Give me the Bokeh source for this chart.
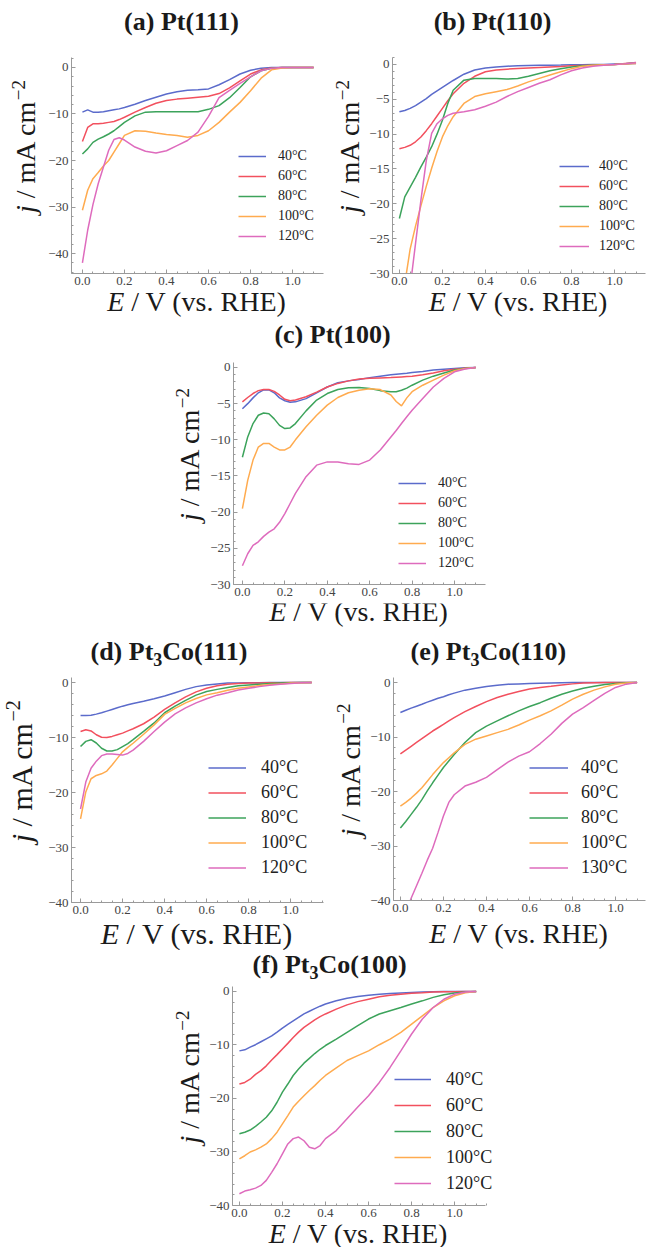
import math
from bokeh.plotting import figure
from bokeh.models import (Range1d, FixedTicker, CustomJSTickFormatter, Label,
                          Legend, LegendItem, Spacer, Plot)
from bokeh.layouts import row, column
from bokeh.embed import file_html
from bokeh.resources import INLINE

SERIF = "Liberation Serif"
COLORS = ["#5b6bcb", "#f2505e", "#3ca35b", "#ffab4f", "#de6bbd"]
LABELS = ["40°C", "60°C", "80°C", "100°C", "120°C"]
LABELS_E = ["40°C", "60°C", "80°C", "100°C", "130°C"]

# ---------------- data (E in V vs RHE, j in mA cm^-2) ----------------
E_a = [0, .025, .05, .075, .1, .125, .15, .175, .2, .25, .3, .35, .4, .45, .5,
       .55, .6, .65, .7, .75, .8, .85, .9, .95, 1.0, 1.05, 1.1]
a_40 = [-9.6, -9.1, -9.6, -9.6, -9.5, -9.3, -9.1, -8.9, -8.6, -7.9, -7.1, -6.4, -5.7, -5.2, -4.9,
        -4.8, -4.6, -3.7, -2.6, -1.4, -0.6, -0.15, 0, 0, 0, 0, 0]
a_60 = [-15.9, -12.9, -12.1, -12.1, -12.0, -11.8, -11.6, -11.2, -10.7, -9.6, -8.6, -7.7, -7.1, -6.8, -6.6,
        -6.4, -6.2, -5.6, -4.4, -2.9, -1.4, -0.5, -0.1, 0, 0, 0, 0]
a_80 = [-18.6, -17.5, -16.1, -15.4, -14.9, -14.3, -13.6, -12.7, -11.8, -10.4, -9.6, -9.5, -9.5, -9.5, -9.5,
        -9.5, -9.0, -8.2, -6.5, -4.3, -2.0, -0.7, -0.15, 0, 0, 0, 0]
a_100 = [-30.7, -26.4, -23.9, -22.6, -21.2, -20.0, -18.2, -16.4, -14.6, -13.6, -13.7, -14.1, -14.4, -14.6, -15.0,
         -14.6, -13.6, -11.8, -9.6, -7.5, -5.0, -2.3, -0.5, -0.1, 0, 0, 0]
a_120 = [-42.0, -35.0, -29.5, -25.0, -21.4, -17.8, -15.5, -15.1, -15.6, -17.1, -18.0, -18.4, -17.9, -16.8, -15.7,
         -13.9, -10.5, -6.5, -4.9, -3.4, -2.0, -0.7, -0.15, 0, 0, 0, 0]

E_b = [0, .025, .05, .075, .1, .125, .15, .175, .2, .225, .25, .3, .35, .4, .45, .5,
       .55, .6, .65, .7, .75, .8, .85, .9, .95, 1.0, 1.05, 1.1]
b_40 = [-6.8, -6.6, -6.3, -5.9, -5.4, -4.9, -4.3, -3.8, -3.3, -2.8, -2.3, -1.4, -0.8, -0.5, -0.35, -0.25,
        -0.2, -0.15, -0.12, -0.1, -0.08, -0.05, -0.03, 0, 0, 0.05, 0.1, 0.15]
b_60 = [-12.1, -11.9, -11.6, -11.1, -10.4, -9.5, -8.5, -7.4, -6.3, -5.2, -4.2, -2.7, -1.7, -1.05, -0.8, -0.67,
        -0.58, -0.5, -0.42, -0.35, -0.28, -0.2, -0.15, -0.1, -0.05, 0, 0.15, 0.3]
b_80 = [-22.1, -19.0, -17.6, -16.2, -14.7, -13.3, -11.8, -10.0, -8.0, -5.6, -3.7, -2.25, -2.0, -2.0, -2.0, -2.1,
        -2.0, -1.7, -1.3, -0.9, -0.6, -0.35, -0.2, -0.1, -0.05, 0, 0.1, 0.2]
b_100 = [-34.0, -31.5, -26.5, -23.2, -20.3, -17.5, -14.9, -12.5, -10.4, -8.8, -7.5, -5.6, -4.6, -4.2, -3.9, -3.6,
         -3.1, -2.5, -2.0, -1.5, -1.05, -0.6, -0.25, -0.1, -0.05, 0, 0.08, 0.15]
b_120 = [-40.0, -36.0, -32.0, -25.7, -19.5, -13.8, -9.9, -8.5, -7.8, -7.3, -7.0, -6.8, -6.5, -6.0, -5.4, -4.6,
         -3.9, -3.3, -2.7, -2.2, -1.5, -0.9, -0.5, -0.25, -0.1, 0, 0.12, 0.25]

E_c = [0, .025, .05, .075, .1, .125, .15, .175, .2, .225, .25, .3, .35, .4, .45, .5,
       .55, .6, .65, .7, .725, .75, .775, .8, .85, .9, .95, 1.0, 1.05, 1.1]
c_40 = [-5.7, -5.0, -4.2, -3.5, -3.1, -3.1, -3.5, -4.2, -4.6, -4.8, -4.75, -4.3, -3.5, -2.7, -2.1, -1.85,
        -1.65, -1.4, -1.2, -1.0, -0.92, -0.85, -0.78, -0.7, -0.55, -0.35, -0.25, -0.15, -0.05, 0]
c_60 = [-4.75, -4.15, -3.6, -3.2, -3.05, -3.05, -3.3, -3.8, -4.4, -4.6, -4.5, -4.05, -3.4, -2.7, -2.2, -1.85,
        -1.6, -1.5, -1.45, -1.4, -1.35, -1.3, -1.25, -1.2, -1.0, -0.75, -0.45, -0.25, -0.1, 0]
c_80 = [-12.4, -9.6, -7.75, -6.6, -6.3, -6.4, -7.1, -8.0, -8.45, -8.35, -7.75, -6.0, -4.5, -3.6, -3.05, -2.8,
        -2.75, -2.9, -3.2, -3.35, -3.35, -3.15, -2.85, -2.45, -1.75, -1.2, -0.75, -0.35, -0.15, 0]
c_100 = [-19.5, -15.6, -12.8, -11.0, -10.5, -10.5, -11.0, -11.4, -11.4, -11.0, -10.0, -8.2, -6.6, -5.2, -4.15, -3.5,
         -3.15, -2.95, -3.05, -3.8, -4.7, -5.3, -4.2, -3.35, -2.45, -1.75, -1.05, -0.45, -0.15, 0]
c_120 = [-27.4, -25.75, -24.6, -24.1, -23.35, -22.75, -22.3, -21.4, -20.2, -18.8, -17.4, -15.1, -13.5, -13.05, -13.05, -13.3,
         -13.4, -12.8, -11.4, -9.6, -8.7, -7.75, -6.8, -5.9, -4.3, -2.7, -1.5, -0.6, -0.2, 0]

E_d = [0, .025, .05, .075, .1, .125, .15, .175, .2, .225, .25, .3, .35, .4, .45, .5,
       .55, .6, .65, .7, .75, .8, .85, .9, .95, 1.0, 1.05, 1.1]
d_40 = [-6.0, -6.0, -5.95, -5.75, -5.5, -5.2, -4.9, -4.6, -4.3, -4.05, -3.8, -3.4, -2.95, -2.45, -1.85, -1.25,
        -0.75, -0.45, -0.25, -0.1, -0.07, -0.05, -0.03, 0, 0, 0, 0, 0]
d_60 = [-8.9, -8.6, -8.8, -9.5, -9.95, -10.0, -9.8, -9.5, -9.2, -8.8, -8.4, -7.5, -6.3, -4.9, -3.7, -2.6,
        -1.7, -1.05, -0.6, -0.3, -0.2, -0.1, -0.07, -0.05, -0.03, 0, 0, 0]
d_80 = [-11.65, -10.7, -10.4, -11.0, -11.95, -12.45, -12.45, -12.2, -11.65, -11.1, -10.4, -8.9, -7.35, -5.5, -4.3, -3.25,
        -2.3, -1.65, -1.25, -0.9, -0.6, -0.45, -0.3, -0.2, -0.1, -0.05, 0, 0]
d_100 = [-24.8, -19.9, -17.5, -16.9, -16.6, -16.1, -15.0, -13.8, -12.6, -11.8, -11.05, -9.4, -7.7, -5.8, -4.7, -3.7,
         -2.9, -2.25, -1.85, -1.4, -1.05, -0.8, -0.55, -0.35, -0.25, -0.1, -0.05, 0]
d_120 = [-23.0, -18.1, -15.6, -14.3, -13.3, -13.0, -13.0, -13.1, -13.2, -12.9, -12.3, -10.7, -8.9, -7.2, -5.7, -4.6,
         -3.7, -2.95, -2.3, -1.85, -1.35, -1.05, -0.75, -0.5, -0.3, -0.2, -0.05, 0]

E_e = [0, .025, .05, .075, .1, .125, .15, .175, .2, .225, .25, .3, .35, .4, .45, .5,
       .55, .6, .65, .7, .75, .8, .85, .9, .95, 1.0, 1.05, 1.1]
e_40 = [-5.5, -5.1, -4.7, -4.35, -4.0, -3.6, -3.25, -2.9, -2.6, -2.25, -1.95, -1.4, -1.05, -0.75, -0.5, -0.3,
        -0.25, -0.2, -0.15, -0.1, -0.05, 0, 0, 0, 0, 0, 0, 0]
e_60 = [-13.1, -12.4, -11.7, -11.0, -10.3, -9.6, -8.9, -8.3, -7.7, -7.05, -6.45, -5.35, -4.4, -3.5, -2.75, -2.15,
        -1.65, -1.2, -0.9, -0.7, -0.45, -0.25, -0.1, -0.05, 0, 0, 0, 0]
e_80 = [-26.7, -25.5, -24.2, -22.9, -21.5, -19.9, -18.4, -17.0, -15.6, -14.4, -13.2, -11.0, -9.2, -8.0, -7.05, -6.1,
        -5.2, -4.4, -3.7, -2.9, -2.15, -1.55, -1.05, -0.7, -0.35, -0.2, -0.05, 0]
e_100 = [-22.7, -22.0, -21.2, -20.3, -19.3, -18.1, -16.9, -15.8, -14.7, -13.8, -12.9, -11.35, -10.4, -9.8, -9.2, -8.6,
         -7.8, -6.9, -6.1, -5.2, -4.15, -3.05, -2.15, -1.4, -0.8, -0.3, -0.1, 0]
e_130 = [-44.5, -42.2, -39.6, -37.3, -35.0, -32.6, -30.4, -27.5, -24.5, -22.0, -20.6, -19.0, -18.3, -17.4, -16.0, -14.6,
         -13.5, -12.7, -11.2, -9.5, -7.5, -5.8, -4.6, -3.3, -2.0, -0.9, -0.3, 0]

E_f = [0, .025, .05, .075, .1, .125, .15, .175, .2, .225, .25, .275, .3, .325, .35, .375, .4, .45, .5,
       .55, .6, .65, .7, .75, .8, .85, .9, .95, 1.0, 1.05, 1.1]
f_40 = [-11.1, -10.9, -10.4, -9.95, -9.4, -8.85, -8.3, -7.6, -6.85, -6.15, -5.5, -4.85, -4.2, -3.7, -3.2, -2.75,
        -2.35, -1.75, -1.25, -0.95, -0.7, -0.5, -0.4, -0.3, -0.2, -0.12, -0.05, 0, 0, 0, 0]
f_60 = [-17.3, -17.0, -16.4, -15.5, -14.8, -13.9, -12.8, -11.8, -10.75, -9.7, -8.6, -7.6, -6.7, -6.0, -5.3, -4.7,
        -4.2, -3.3, -2.5, -1.9, -1.45, -1.0, -0.7, -0.5, -0.35, -0.25, -0.1, -0.07, -0.05, -0.02, 0]
f_80 = [-26.6, -26.3, -25.9, -25.2, -24.4, -23.5, -22.3, -20.7, -18.8, -17.3, -15.7, -14.5, -13.4, -12.5, -11.6, -10.8,
        -10.1, -8.9, -7.65, -6.4, -5.15, -4.2, -3.6, -3.0, -2.35, -1.75, -1.1, -0.6, -0.3, -0.1, 0]
f_100 = [-31.3, -30.7, -30.0, -29.6, -29.1, -28.5, -27.5, -26.3, -24.75, -23.2, -21.6, -20.5, -19.5, -18.5, -17.6, -16.6,
         -15.7, -14.3, -12.9, -12.0, -11.1, -9.95, -8.9, -7.65, -6.1, -4.55, -3.0, -1.75, -0.8, -0.25, 0]
f_120 = [-37.8, -37.3, -37.05, -36.75, -36.25, -35.3, -33.8, -32.2, -30.35, -28.5, -27.5, -27.2, -27.9, -29.1, -29.4, -28.8,
         -27.5, -26.0, -23.8, -21.6, -19.5, -17.0, -14.2, -11.1, -7.95, -5.15, -3.0, -1.45, -0.5, -0.1, 0]

X_TICKS = [0.0, 0.2, 0.4, 0.6, 0.8, 1.0]

BL, BT, BB = 25, 4, 19   # main-figure borders (left, top, bottom)
MID = 0.34               # distance (em) from baseline to the text's vertical middle


# ---------------- helpers ----------------
def text_plot(w, h):
    return Plot(width=w, height=h, x_range=Range1d(0, 1), y_range=Range1d(0, 1),
                min_border_left=0, min_border_right=0, min_border_top=0, min_border_bottom=0,
                toolbar_location=None, output_backend="svg", outline_line_color=None,
                title=None, background_fill_color="white", border_fill_color="white")


def put(fig, org, px, py, text, size, style="normal", angle=0.0, align="left"):
    """px, py: page position of the text start on its baseline."""
    fx, fy, h = org
    if angle == 0.0:
        py = py - MID * size
    else:
        px = px - MID * size
    fig.add_layout(Label(x=px - fx, y=fy + h - py, x_units="screen", y_units="screen",
                         text=text, text_font=SERIF, text_font_size=f"{size}px",
                         text_font_style=style, text_align=align, text_baseline="middle",
                         angle=angle, text_color="#1a1a1a"))


def panel(E, series, labels, region, frame, xr, yr, ymaj, ymin_step, leg, title,
          font=28, xlab_base=311, ylab_off=35, axis_end=None, axis_px_end=None):
    PL, PR, PT, PB = region
    fl, fr, ft, fb = frame
    main_w = PR - (fl - BL)
    main_h = fb - ft + BT + BB
    p = figure(width=main_w, height=main_h, min_border_left=BL, min_border_right=PR - fr,
               min_border_top=BT, min_border_bottom=BB, x_range=Range1d(*xr),
               y_range=Range1d(*yr), output_backend="svg", toolbar_location=None,
               tools="", title=None)
    p.xgrid.visible = False
    p.ygrid.visible = False
    p.outline_line_color = None
    p.background_fill_color = "white"
    p.border_fill_color = "white"
    ylo = math.floor(yr[0] / ymaj) * ymaj
    p.xaxis.ticker = FixedTicker(ticks=X_TICKS, minor_ticks=[i * 0.05 for i in range(-1, 24)])
    p.yaxis.ticker = FixedTicker(ticks=[v for v in range(0, int(ylo) - 1, -ymaj) if v >= yr[0] - 1e-9],
                                 minor_ticks=[v for v in range(int(ylo), 3, ymin_step)])
    p.xaxis.formatter = CustomJSTickFormatter(code="return tick.toFixed(1);")
    p.yaxis.formatter = CustomJSTickFormatter(
        code="return (tick < 0 ? '\\u2212' : '') + Math.abs(tick).toFixed(0);")
    if axis_end is not None:
        p.xaxis.bounds = (xr[0], axis_end)
    p.axis.axis_line_color = "#9a9a9a"
    p.axis.major_tick_line_color = "#9a9a9a"
    p.axis.minor_tick_line_color = "#9a9a9a"
    p.axis.major_tick_in = 4
    p.axis.major_tick_out = 0
    p.axis.minor_tick_in = 2
    p.axis.minor_tick_out = 0
    p.axis.major_label_text_font = SERIF
    p.axis.major_label_text_font_size = "13px"
    p.axis.major_label_text_color = "#444444"
    p.axis.major_label_standoff = 3
    items = []
    for j, c, lab in zip(series, COLORS, labels):
        r = p.line(E, j, line_color=c, line_width=1.5)
        items.append(LegendItem(label=lab, renderers=[r]))
    lx, ly, gw, so, fs, rh = leg
    p.add_layout(Legend(items=items, location=(lx, ly), glyph_width=gw, glyph_height=rh,
                        label_height=rh, spacing=0, padding=0, margin=0, label_standoff=so,
                        label_text_font=SERIF, label_text_font_size=f"{fs}px",
                        label_text_color="#222222", border_line_alpha=0,
                        background_fill_alpha=0))

    # title strip
    t_h = ft - BT - PT
    tfig = text_plot(PR - PL, t_h)
    torg = (PL, PT, t_h)
    if title[0] == "simple":
        _, cx, by, text = title
        put(tfig, torg, cx, by, text, 26, "bold", align="center")
    else:
        _, sx, by, (pre, sub, post), wpre = title
        put(tfig, torg, sx, by, pre, 26, "bold")
        put(tfig, torg, sx + wpre, by + 5, sub, 18, "bold")
        put(tfig, torg, sx + wpre + 9, by, post, 26, "bold")

    # y label strip:  j / mA cm^-2  (reads bottom to top)
    yfig = text_plot(fl - BL - PL, main_h)
    yorg = (PL, ft - BT, main_h)
    a = math.pi / 2
    cy = (ft + fb) / 2
    y0 = cy + 4.75 * font / 2
    bx = fl - ylab_off
    put(yfig, yorg, bx, y0, "j", font, "italic", angle=a)
    put(yfig, yorg, bx, y0 - 0.528 * font, "/ mA cm", font, angle=a)
    sup = round(0.68 * font)
    put(yfig, yorg, bx - 0.39 * font, y0 - 4.028 * font, "\u22122", sup, angle=a)

    # x label strip:  E / V (vs. RHE)
    x_h = PB - (fb + BB)
    xfig = text_plot(PR - PL, x_h)
    xorg = (PL, fb + BB, x_h)
    ax_right = axis_px_end if axis_px_end is not None else fr
    x0 = (fl + ax_right) / 2 - 6.416 * font / 2
    put(xfig, xorg, x0, xlab_base, "E", font, "italic")
    put(xfig, xorg, x0 + 0.861 * font, xlab_base, "/ V (vs. RHE)", font)

    return column(tfig, row(yfig, p), xfig)


pa = panel(E_a, [a_40, a_60, a_80, a_100, a_120], LABELS, (0, 330, 0, 318), (70, 323, 57, 273),
           (-0.052, 1.147), (-44.3, 2.15), 10, 2, (167, 27, 28, 12, 14, 20),
           ("simple", 181, 30, "(a) Pt(111)"), 28, 311, 35)
pb = panel(E_b, [b_40, b_60, b_80, b_100, b_120], LABELS, (330, 657, 0, 318), (391, 645, 57, 273),
           (-0.032, 1.144), (-30, 1.0), 5, 1, (167, 17, 30, 10, 14, 20),
           ("simple", 492, 30, "(b) Pt(110)"), 28, 311, 32)
pc = panel(E_c, [c_40, c_60, c_80, c_100, c_120], LABELS, (170, 492, 318, 627), (232, 485, 362, 584),
           (-0.042, 1.146), (-30, 0.69), 5, 1, (165, 11, 28, 12, 14, 20),
           ("simple", 332, 343, "(c) Pt(100)"), 28, 621, 33)
pd_ = panel(E_d, [d_40, d_60, d_80, d_100, d_120], LABELS, (0, 330, 627, 950), (70, 323, 677, 902),
            (-0.043, 1.156), (-40, 0.91), 10, 2, (137, 22, 38, 15, 18, 25),
            ("sub", 90, 660, ("(d) Pt", "3", "Co(111)"), 62.8), 30, 943, 39)
pe = panel(E_e, [e_40, e_60, e_80, e_100, e_130], LABELS_E, (330, 657, 627, 950), (392, 645, 677, 900),
           (-0.032, 1.139), (-40, 0.92), 10, 2, (136, 20, 39, 13, 18, 25),
           ("sub", 410, 660, ("(e) Pt", "3", "Co(110)"), 59.9), 28, 943, 32)
pf = panel(E_f, [f_40, f_60, f_80, f_100, f_120], LABELS, (170, 500, 950, 1247), (231, 497, 986, 1205),
           (-0.032, 1.199), (-40, 0.93), 10, 2, (162, 9, 37, 15, 18, 26),
           ("sub", 252, 973, ("(f) Pt", "3", "Co(100)"), 57.0), 28, 1243, 32,
           axis_end=1.144, axis_px_end=485)

layout = column(
    row(pa, pb),
    row(Spacer(width=170, height=309), pc),
    row(pd_, pe),
    row(Spacer(width=170, height=297), pf),
)

open("out.html", "w").write(file_html(layout, INLINE))
